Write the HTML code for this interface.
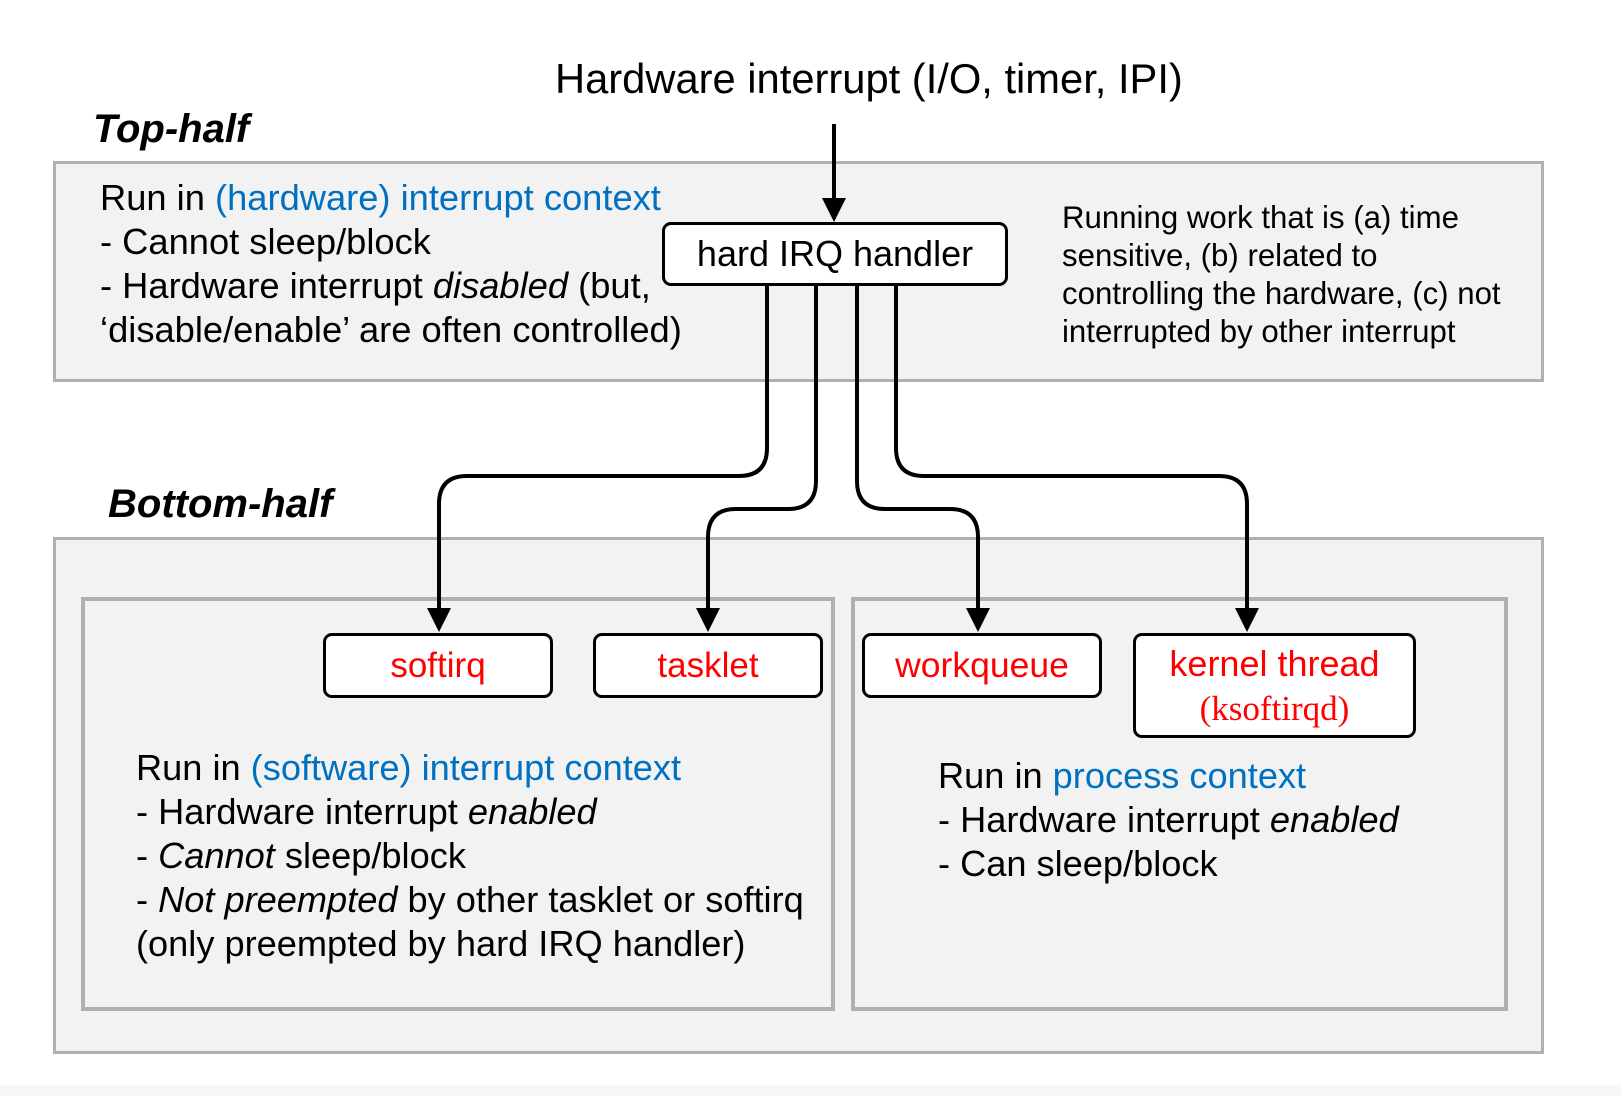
<!DOCTYPE html>
<html><head><style>
body{margin:0;width:1622px;height:1096px;background:#fff;position:relative;font-family:"Liberation Sans",Arial,sans-serif;overflow:hidden}
.t{position:absolute;white-space:nowrap;color:#000}
.b{color:#0070c0}
.r{color:#ff0000}
.box{position:absolute;background:#f2f2f2;border:3px solid #b0b0b0;box-sizing:border-box}
.n{position:absolute;background:#fff;border:3px solid #000;border-radius:9px;box-sizing:border-box;text-align:center}
</style></head><body>
<div style="position:absolute;left:0;top:1085px;width:1622px;height:11px;background:#f7f7f7"></div>
<div class="box" style="left:53px;top:161px;width:1491px;height:221px"></div>
<div class="box" style="left:53px;top:537px;width:1491px;height:517px"></div>
<div class="box" style="left:81px;top:597px;width:754px;height:414px;border-width:4px"></div>
<div class="box" style="left:851px;top:597px;width:657px;height:414px;border-width:4px"></div>

<div class="t" style="left:555px;top:55px;font-size:41.7px;line-height:48px">Hardware interrupt (I/O, timer, IPI)</div>
<div class="t" style="left:93px;top:106px;font-size:40px;line-height:46px;font-weight:bold;font-style:italic">Top-half</div>
<div class="t" style="left:108px;top:481px;font-size:40px;line-height:46px;font-weight:bold;font-style:italic">Bottom-half</div>

<div class="t" style="left:100px;top:176px;font-size:36.3px;line-height:44px">Run in <span class="b">(hardware) interrupt context</span><br>- Cannot sleep/block<br>- Hardware interrupt <i>disabled</i> (but,<br>‘disable/enable’ are often controlled)</div>
<div class="t" style="left:1062px;top:199px;font-size:31.2px;line-height:38px">Running work that is (a) time<br>sensitive, (b) related to<br>controlling the hardware, (c) not<br>interrupted by other interrupt</div>
<div class="t" style="left:136px;top:746px;font-size:36.2px;line-height:44px">Run in <span class="b">(software) interrupt context</span><br>- Hardware interrupt <i>enabled</i><br>- <i>Cannot</i> sleep/block<br>- <i>Not preempted</i> by other tasklet or softirq<br>(only preempted by hard IRQ handler)</div>
<div class="t" style="left:938px;top:754px;font-size:36.2px;line-height:44px">Run in <span class="b">process context</span><br>- Hardware interrupt <i>enabled</i><br>- Can sleep/block</div>

<svg style="position:absolute;left:0;top:0" width="1622" height="1096">
<defs><marker id="a" markerWidth="6" markerHeight="6" refX="5" refY="3" orient="auto" markerUnits="strokeWidth"><path d="M0,0 L6,3 L0,6 z" fill="#000"/></marker></defs>
<g fill="none" stroke="#000" stroke-width="4">
<path d="M834,124 V218" marker-end="url(#a)"/>
<path d="M767,286 V448 Q767,476 739,476 H467 Q439,476 439,504 V628" marker-end="url(#a)"/>
<path d="M816,286 V481 Q816,509 788,509 H736 Q708,509 708,537 V628" marker-end="url(#a)"/>
<path d="M857,286 V481 Q857,509 885,509 H950 Q978,509 978,537 V628" marker-end="url(#a)"/>
<path d="M896,286 V448 Q896,476 924,476 H1219 Q1247,476 1247,504 V628" marker-end="url(#a)"/>
</g></svg>

<div class="n" style="left:662px;top:222px;width:346px;height:64px;font-size:36px;line-height:58px">hard IRQ handler</div>
<div class="n r" style="left:323px;top:633px;width:230px;height:65px;font-size:35px;line-height:59px">softirq</div>
<div class="n r" style="left:593px;top:633px;width:230px;height:65px;font-size:35px;line-height:59px">tasklet</div>
<div class="n r" style="left:862px;top:633px;width:240px;height:65px;font-size:35.5px;line-height:59px">workqueue</div>
<div class="n r" style="left:1133px;top:633px;width:283px;height:105px;font-size:36px;line-height:44px;padding-top:6px">kernel thread<br><span style="font-family:'Liberation Serif',serif;font-size:35px">(ksoftirqd)</span></div>
</body></html>
